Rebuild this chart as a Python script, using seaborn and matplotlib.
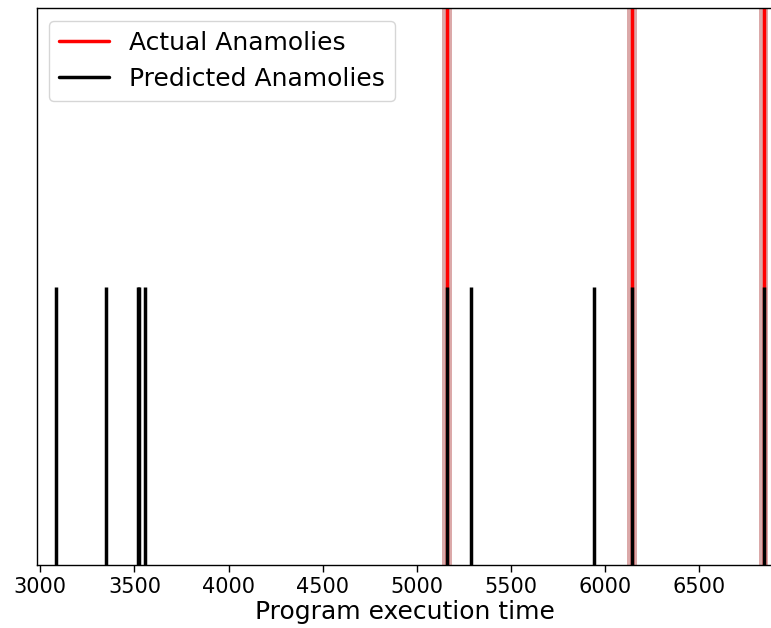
import matplotlib
matplotlib.use("Agg")
import matplotlib.pyplot as plt
import seaborn as sns
import numpy as np

actual = [5161, 6142, 6842]
predicted = [3082, 3351, 3520, 3527, 3556, 5161, 5287, 5939, 6142, 6842]
xlim = (2981, 6898)

sns.set_style("white")
plt.rcParams['font.family'] = ['DejaVu Sans']
plt.rcParams['text.color'] = 'black'
plt.rcParams['axes.labelcolor'] = 'black'
plt.rcParams['xtick.color'] = 'black'

fig = plt.figure(figsize=(7.71, 6.28), dpi=100)
ax = fig.add_axes([0.0476, 0.1, 0.9564, 0.887])

for a in actual:
    ax.axvspan(a - 26, a + 26, color='brown', alpha=0.4, lw=0)
sns.rugplot(x=actual, height=1.0, color='red', linewidth=2.5, ax=ax, expand_margins=False)
sns.rugplot(x=predicted, height=0.5, color='black', linewidth=2.5, ax=ax, expand_margins=False)

ax.plot([], [], color='red', lw=2.5, label='Actual Anamolies')
ax.plot([], [], color='black', lw=2.5, label='Predicted Anamolies')
leg = ax.legend(loc='upper left', fontsize=18, frameon=True, handlelength=2.0)

ax.set_xlim(*xlim)
ax.set_ylim(0, 1)
ax.set_yticks([])
ax.set_xticks([3000, 3500, 4000, 4500, 5000, 5500, 6000, 6500])
ax.tick_params(axis='x', labelsize=15, bottom=True, length=5, width=1.0, direction='out', labelcolor='black')
ax.set_xlabel('Program execution time', fontsize=18, labelpad=2)
for s in ax.spines.values():
    s.set_visible(True)
    s.set_color('black')
    s.set_linewidth(1.0)

fig.savefig('out.png', dpi=100)
